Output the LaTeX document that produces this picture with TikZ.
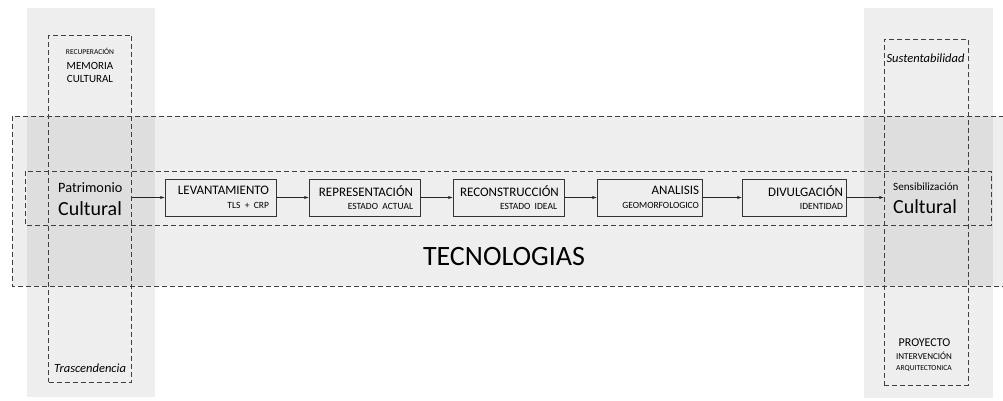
\documentclass[tikz,border=0pt]{standalone}
\usepackage{fontspec}
\setmainfont{Carlito}
\usetikzlibrary{arrows,positioning,calc}

\begin{document}
\begin{tikzpicture}[x=1pt,y=-1pt,node distance=144pt, >=latex]
				\tikzstyle{zona}=[fill=black, fill opacity=0.065, draw=none]
				\tikzstyle{marco}=[draw=black!75, dashed, dash pattern=on 5pt off 3pt, line width=0.6pt]
				\tikzstyle{etapa}=[draw=black!80, line width=0.6pt, minimum height=37pt, text width=97pt, inner xsep=7pt, align=right, font=\fontsize{13}{13.5}\selectfont]
				\tikzstyle{rotulo}=[anchor=base, inner sep=0pt]
				\tikzstyle{flecha}=[->, black!85, line width=0.5pt]
				\useasboundingbox (0,0) rectangle (1003,401);
				\clip (0,0) rectangle (1003,401);
				%Fondos
				\fill[zona] (27,8) rectangle (155,397);
				\fill[zona] (864,8) rectangle (993,398);
				\fill[zona] (12,116) rectangle (1010,286);
				%Marcos
				\draw[marco] (12,116) rectangle (1010,286);
				\draw[marco] (25,171) rectangle (991,225);
				\node[marco, minimum width=83pt, minimum height=347pt](izq) at (90,208.5){};
				\node[marco, minimum width=84pt, minimum height=346pt](der) at (926,212){};
				%Columna izquierda
				\node[rotulo, font=\fontsize{7.5}{9}\selectfont](recup) at (90,54.5){RECUPERACIÓN};
				\node[rotulo, font=\fontsize{11}{12}\selectfont](memo) at (90,69.5){MEMORIA};
				\node[rotulo, font=\fontsize{11}{12}\selectfont](cult1) at (90,82.5){CULTURAL};
				\node[rotulo, font=\itshape\fontsize{12.5}{14}\selectfont](trasc) at (90,372){Trascendencia};
				\node[rotulo, anchor=base west, font=\fontsize{14.3}{16}\selectfont](patr) at (58,192){Patrimonio};
				\node[rotulo, anchor=base west, font=\fontsize{20}{22}\selectfont](cult2) at (58,215){Cultural};
				%Columna derecha
				\node[rotulo, font=\itshape\fontsize{12.5}{14}\selectfont](sust) at (925.5,63){Sustentabilidad};
				\node[rotulo, font=\fontsize{12}{13}\selectfont](proy) at (924.5,346){PROYECTO};
				\node[rotulo, font=\fontsize{9}{10}\selectfont](interv) at (924,359){INTERVENCIÓN};
				\node[rotulo, font=\fontsize{7.6}{9}\selectfont](arq) at (924,370.5){ARQUITECTONICA};
				\node[rotulo, anchor=base west, font=\fontsize{11.1}{13}\selectfont](sens) at (893,190){Sensibilización};
				\node[rotulo, anchor=base west, font=\fontsize{20}{22}\selectfont](cult3) at (893,213){Cultural};
				%Etapas
				\node[etapa](lev) at (220.5,197.5){LEVANTAMIENTO\\{\fontsize{9.5}{13.5}\selectfont TLS + CRP}};
				\node[etapa](rep)[right of = lev]{REPRESENTACIÓN\\{\fontsize{9.5}{13.5}\selectfont ESTADO ACTUAL}};
				\node[etapa](rec)[right of = rep]{RECONSTRUCCIÓN\\{\fontsize{9.5}{13.5}\selectfont ESTADO IDEAL}};
				\node[etapa, text width=99pt, inner xsep=3pt](ana) at (649.5,197.5){ANALISIS\\{\fontsize{9.5}{13.5}\selectfont GEOMORFOLOGICO}};
				\node[etapa, text width=98pt, inner xsep=3pt](div) at (794,197.5){DIVULGACIÓN\\{\fontsize{9.5}{13.5}\selectfont IDENTIDAD}};
				\node[rotulo, font=\fontsize{28}{30}\selectfont](tec) at (504,265){TECNOLOGIAS};
				%Flechas
				\draw[flecha] (izq.east |- lev.west) -- (lev.west);
				\draw[flecha] (lev) -- (rep);
				\draw[flecha] (rep) -- (rec);
				\draw[flecha] (rec) -- (ana);
				\draw[flecha] (ana) -- (div);
				\draw[flecha] (div.east) -- (der.west |- div.east);
\end{tikzpicture}
\end{document}
